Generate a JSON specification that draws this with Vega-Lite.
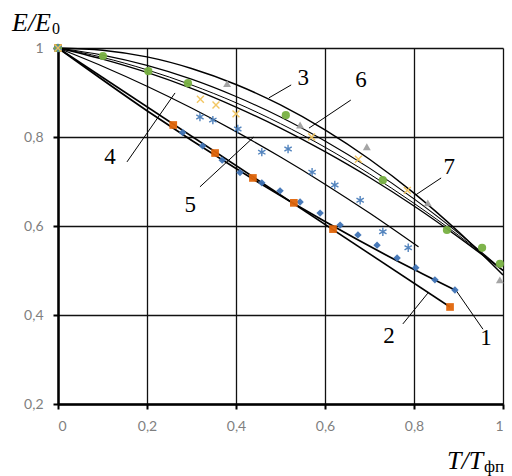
{
  "$schema": "https://vega.github.io/schema/vega-lite/v6.json",
  "width": 445,
  "height": 356,
  "autosize": {"type": "none"},
  "padding": {"left": 58, "top": 48, "right": 9, "bottom": 72},
  "background": "white",
  "config": {
    "view": {"stroke": null},
    "axis": {
      "grid": true, "gridColor": "#111", "gridWidth": 1.3, "gridOpacity": 1,
      "domainColor": "#000", "domainWidth": 2.5,
      "tickColor": "#000", "tickWidth": 2, "tickSize": 5,
      "labelColor": "#7f7f7f", "labelFont": "Lato", "labelFontSize": 14,
      "labelPadding": 10, "title": null
    }
  },
  "datasets": {
    "curves": [
      {"series": "1", "x": 0, "y": 1}, {"series": "1", "x": 0.2, "y": 0.859}, {"series": "1", "x": 0.4, "y": 0.729}, {"series": "1", "x": 0.6, "y": 0.61}, {"series": "1", "x": 0.8, "y": 0.502}, {"series": "1", "x": 0.892, "y": 0.456},
      {"series": "2", "x": 0, "y": 1}, {"series": "2", "x": 0.881, "y": 0.418},
      {"series": "3", "x": 0, "y": 1}, {"series": "3", "x": 0.1, "y": 0.995}, {"series": "3", "x": 0.2, "y": 0.98}, {"series": "3", "x": 0.3, "y": 0.954}, {"series": "3", "x": 0.4, "y": 0.918}, {"series": "3", "x": 0.5, "y": 0.872}, {"series": "3", "x": 0.6, "y": 0.816}, {"series": "3", "x": 0.7, "y": 0.75}, {"series": "3", "x": 0.8, "y": 0.674}, {"series": "3", "x": 0.9, "y": 0.587}, {"series": "3", "x": 1, "y": 0.49},
      {"series": "4", "x": 0, "y": 1}, {"series": "4", "x": 0.1, "y": 0.975}, {"series": "4", "x": 0.2, "y": 0.945}, {"series": "4", "x": 0.3, "y": 0.909}, {"series": "4", "x": 0.4, "y": 0.867}, {"series": "4", "x": 0.5, "y": 0.82}, {"series": "4", "x": 0.6, "y": 0.767}, {"series": "4", "x": 0.7, "y": 0.709}, {"series": "4", "x": 0.8, "y": 0.645}, {"series": "4", "x": 0.9, "y": 0.575}, {"series": "4", "x": 1, "y": 0.5},
      {"series": "5", "x": 0, "y": 1}, {"series": "5", "x": 0.1, "y": 0.959}, {"series": "5", "x": 0.2, "y": 0.914}, {"series": "5", "x": 0.3, "y": 0.865}, {"series": "5", "x": 0.4, "y": 0.812}, {"series": "5", "x": 0.5, "y": 0.755}, {"series": "5", "x": 0.6, "y": 0.694}, {"series": "5", "x": 0.7, "y": 0.629}, {"series": "5", "x": 0.81, "y": 0.553},
      {"series": "6", "x": 0, "y": 1}, {"series": "6", "x": 0.1, "y": 0.984}, {"series": "6", "x": 0.2, "y": 0.961}, {"series": "6", "x": 0.3, "y": 0.93}, {"series": "6", "x": 0.4, "y": 0.891}, {"series": "6", "x": 0.5, "y": 0.845}, {"series": "6", "x": 0.6, "y": 0.791}, {"series": "6", "x": 0.7, "y": 0.73}, {"series": "6", "x": 0.8, "y": 0.661}, {"series": "6", "x": 0.9, "y": 0.584}, {"series": "6", "x": 1, "y": 0.5},
      {"series": "7", "x": 0, "y": 1}, {"series": "7", "x": 0.1, "y": 0.979}, {"series": "7", "x": 0.2, "y": 0.951}, {"series": "7", "x": 0.3, "y": 0.917}, {"series": "7", "x": 0.4, "y": 0.877}, {"series": "7", "x": 0.5, "y": 0.83}, {"series": "7", "x": 0.6, "y": 0.777}, {"series": "7", "x": 0.7, "y": 0.717}, {"series": "7", "x": 0.8, "y": 0.651}, {"series": "7", "x": 0.9, "y": 0.579}, {"series": "7", "x": 1, "y": 0.5}
    ],
    "points": [
      {"series": "1", "x": 0, "y": 1}, {"series": "1", "x": 0.28, "y": 0.81}, {"series": "1", "x": 0.325, "y": 0.78}, {"series": "1", "x": 0.369, "y": 0.748}, {"series": "1", "x": 0.409, "y": 0.72}, {"series": "1", "x": 0.458, "y": 0.697}, {"series": "1", "x": 0.499, "y": 0.679}, {"series": "1", "x": 0.544, "y": 0.654}, {"series": "1", "x": 0.589, "y": 0.629}, {"series": "1", "x": 0.634, "y": 0.602}, {"series": "1", "x": 0.674, "y": 0.58}, {"series": "1", "x": 0.717, "y": 0.557}, {"series": "1", "x": 0.762, "y": 0.528}, {"series": "1", "x": 0.804, "y": 0.506}, {"series": "1", "x": 0.847, "y": 0.479}, {"series": "1", "x": 0.892, "y": 0.456},
      {"series": "2", "x": 0, "y": 1}, {"series": "2", "x": 0.259, "y": 0.827}, {"series": "2", "x": 0.353, "y": 0.764}, {"series": "2", "x": 0.438, "y": 0.708}, {"series": "2", "x": 0.53, "y": 0.652}, {"series": "2", "x": 0.618, "y": 0.593}, {"series": "2", "x": 0.881, "y": 0.418},
      {"series": "3", "x": 0, "y": 1}, {"series": "3", "x": 0.38, "y": 0.92}, {"series": "3", "x": 0.544, "y": 0.827}, {"series": "3", "x": 0.694, "y": 0.778}, {"series": "3", "x": 0.831, "y": 0.652}, {"series": "3", "x": 0.993, "y": 0.479},
      {"series": "4", "x": 0, "y": 1}, {"series": "4", "x": 0.101, "y": 0.982}, {"series": "4", "x": 0.203, "y": 0.948}, {"series": "4", "x": 0.292, "y": 0.921}, {"series": "4", "x": 0.512, "y": 0.849}, {"series": "4", "x": 0.73, "y": 0.703}, {"series": "4", "x": 0.874, "y": 0.591}, {"series": "4", "x": 0.953, "y": 0.551}, {"series": "4", "x": 0.993, "y": 0.515},
      {"series": "5", "x": 0, "y": 1}, {"series": "5", "x": 0.319, "y": 0.845}, {"series": "5", "x": 0.348, "y": 0.838}, {"series": "5", "x": 0.404, "y": 0.818}, {"series": "5", "x": 0.458, "y": 0.766}, {"series": "5", "x": 0.517, "y": 0.773}, {"series": "5", "x": 0.571, "y": 0.721}, {"series": "5", "x": 0.622, "y": 0.692}, {"series": "5", "x": 0.679, "y": 0.658}, {"series": "5", "x": 0.73, "y": 0.587}, {"series": "5", "x": 0.787, "y": 0.551},
      {"series": "6", "x": 0, "y": 1}, {"series": "6", "x": 0.32, "y": 0.885}, {"series": "6", "x": 0.355, "y": 0.872}, {"series": "6", "x": 0.4, "y": 0.852}, {"series": "6", "x": 0.57, "y": 0.8}, {"series": "6", "x": 0.675, "y": 0.75}, {"series": "6", "x": 0.785, "y": 0.68}
    ],
    "labels": [
      {"label": "1", "x": 0.962, "y": 0.348},
      {"label": "2", "x": 0.744, "y": 0.353},
      {"label": "3", "x": 0.551, "y": 0.933},
      {"label": "4", "x": 0.117, "y": 0.755},
      {"label": "5", "x": 0.297, "y": 0.647},
      {"label": "6", "x": 0.681, "y": 0.928},
      {"label": "7", "x": 0.879, "y": 0.733}
    ],
    "leaders": [
      {"label": "1", "x": 0.894, "y": 0.456, "x2": 0.955, "y2": 0.368},
      {"label": "2", "x": 0.831, "y": 0.449, "x2": 0.775, "y2": 0.38},
      {"label": "3", "x": 0.474, "y": 0.888, "x2": 0.524, "y2": 0.917},
      {"label": "4", "x": 0.263, "y": 0.899, "x2": 0.155, "y2": 0.744},
      {"label": "5", "x": 0.44, "y": 0.8, "x2": 0.319, "y2": 0.688},
      {"label": "6", "x": 0.564, "y": 0.82, "x2": 0.658, "y2": 0.883},
      {"label": "7", "x": 0.804, "y": 0.67, "x2": 0.861, "y2": 0.708}
    ]
  },
  "layer": [
    {
      "data": {"name": "curves"},
      "mark": {"type": "line", "color": "#000", "interpolate": "monotone"},
      "encoding": {
        "x": {"field": "x", "type": "quantitative", "scale": {"domain": [0, 1], "nice": false, "zero": false},
              "axis": {"values": [0, 0.2, 0.4, 0.6, 0.8, 1], "labelExpr": "replace(format(datum.value, '.1~f'), '.', ',')"}},
        "y": {"field": "y", "type": "quantitative", "scale": {"domain": [0.2, 1], "nice": false, "zero": false},
              "axis": {"values": [0.2, 0.4, 0.6, 0.8, 1], "labelExpr": "replace(format(datum.value, '.1~f'), '.', ',')"}},
        "detail": {"field": "series"},
        "strokeWidth": {"field": "series", "type": "ordinal", "legend": null,
          "scale": {"domain": ["1", "2", "3", "4", "5", "6", "7"], "range": [1.7, 1, 1, 2.3, 1.2, 1, 2]}}
      }
    },
    {
      "data": {"name": "leaders"},
      "mark": {"type": "rule", "color": "#000", "strokeWidth": 1},
      "encoding": {
        "x": {"field": "x", "type": "quantitative"},
        "y": {"field": "y", "type": "quantitative"},
        "x2": {"field": "x2"},
        "y2": {"field": "y2"}
      }
    },
    {
      "data": {"name": "points"},
      "transform": [{"filter": "datum.series <= '4'"}],
      "mark": {"type": "point", "filled": true, "opacity": 0.95},
      "encoding": {
        "x": {"field": "x", "type": "quantitative"},
        "y": {"field": "y", "type": "quantitative"},
        "shape": {"field": "series", "type": "nominal", "legend": null,
          "scale": {"domain": ["1", "2", "3", "4", "5", "6"], "range": ["diamond", "square", "triangle-up", "circle", "M0,-1L0,1M-0.87,-0.5L0.87,0.5M-0.87,0.5L0.87,-0.5", "M-0.8,-0.8L0.8,0.8M-0.8,0.8L0.8,-0.8"]}},
        "color": {"field": "series", "type": "nominal", "legend": null,
          "scale": {"domain": ["1", "2", "3", "4", "5", "6"], "range": ["#3f73b5", "#e0650a", "#a0a0a0", "#77b041", "#4a7ebb", "#f2c45a"]}},
        "size": {"field": "series", "type": "nominal", "legend": null,
          "scale": {"domain": ["1", "2", "3", "4", "5", "6"], "range": [55, 75, 50, 80, 90, 70]}}
      }
    },
    {
      "data": {"name": "points"},
      "transform": [{"filter": "datum.series > '4'"}],
      "mark": {"type": "point", "filled": false, "strokeWidth": 1.4, "opacity": 0.95},
      "encoding": {
        "x": {"field": "x", "type": "quantitative"},
        "y": {"field": "y", "type": "quantitative"},
        "shape": {"field": "series", "type": "nominal", "legend": null},
        "color": {"field": "series", "type": "nominal", "legend": null},
        "size": {"field": "series", "type": "nominal", "legend": null}
      }
    },
    {
      "data": {"name": "labels"},
      "mark": {"type": "text", "font": "Liberation Serif", "fontSize": 23, "color": "#000", "align": "center", "baseline": "middle"},
      "encoding": {
        "x": {"field": "x", "type": "quantitative"},
        "y": {"field": "y", "type": "quantitative"},
        "text": {"field": "label"}
      }
    },
    {
      "data": {"values": [{"t": "E/E"}]},
      "mark": {"type": "text", "font": "Liberation Serif", "fontStyle": "italic", "fontSize": 26, "color": "#000", "align": "left", "baseline": "alphabetic", "dx": -46, "dy": -17},
      "encoding": {"x": {"datum": 0, "type": "quantitative"}, "y": {"datum": 1, "type": "quantitative"}, "text": {"field": "t"}}
    },
    {
      "data": {"values": [{"t": "0"}]},
      "mark": {"type": "text", "font": "Liberation Serif", "fontSize": 16, "color": "#000", "align": "left", "baseline": "alphabetic", "dx": -6, "dy": -14},
      "encoding": {"x": {"datum": 0, "type": "quantitative"}, "y": {"datum": 1, "type": "quantitative"}, "text": {"field": "t"}}
    },
    {
      "data": {"values": [{"t": "T/T"}]},
      "mark": {"type": "text", "font": "Liberation Serif", "fontStyle": "italic", "fontSize": 26, "color": "#000", "align": "left", "baseline": "alphabetic", "dx": -56, "dy": 65},
      "encoding": {"x": {"datum": 1, "type": "quantitative"}, "y": {"datum": 0.2, "type": "quantitative"}, "text": {"field": "t"}}
    },
    {
      "data": {"values": [{"t": "фп"}]},
      "mark": {"type": "text", "font": "Liberation Serif", "fontSize": 17, "color": "#000", "align": "left", "baseline": "alphabetic", "dx": -19, "dy": 68},
      "encoding": {"x": {"datum": 1, "type": "quantitative"}, "y": {"datum": 0.2, "type": "quantitative"}, "text": {"field": "t"}}
    }
  ]
}
